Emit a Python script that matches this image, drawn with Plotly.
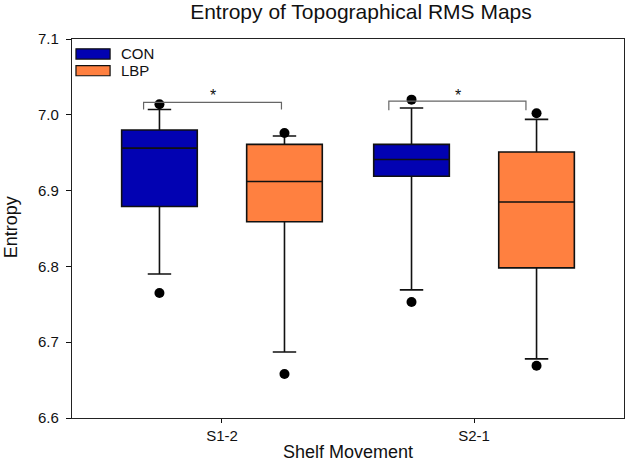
import plotly.graph_objects as go

groups = ["S1-2", "S2-1"]
group_pos = [0, 1]
series = ["CON", "LBP"]
colors = {"CON": "#0202B2", "LBP": "#FF8040"}
offsets = {"CON": -0.248, "LBP": 0.248}

q1 = {"CON": [6.879, 6.919], "LBP": [6.859, 6.798]}
median = {"CON": [6.956, 6.941], "LBP": [6.912, 6.885]}
q3 = {"CON": [6.980, 6.961], "LBP": [6.961, 6.951]}
lowerfence = {"CON": [6.790, 6.769], "LBP": [6.687, 6.678]}
upperfence = {"CON": [7.007, 7.009], "LBP": [6.972, 6.994]}
outlier_low = {"CON": [6.765, 6.753], "LBP": [6.658, 6.669]}
outlier_high = {"CON": [7.014, 7.020], "LBP": [6.976, 7.002]}

# significance brackets: (x_left, x_right, y_bar, y_tick_end)
brackets = [(-0.311, 0.236, 7.0165, 7.007), (0.662, 1.206, 7.018, 7.006)]
star_x = [-0.036, 0.937]
star_y = [7.026, 7.025]

fig = go.Figure()
for s in series:
    xs = [g + offsets[s] for g in group_pos]
    fig.add_trace(go.Box(
        x=xs, q1=q1[s], median=median[s], q3=q3[s],
        lowerfence=lowerfence[s], upperfence=upperfence[s],
        width=0.30, whiskerwidth=0.31, boxpoints=False,
        fillcolor=colors[s], line=dict(color="#111111", width=1.6),
        name=s, showlegend=False, hoverinfo="skip",
    ))
    fig.add_trace(go.Scatter(
        x=xs + xs, y=outlier_low[s] + outlier_high[s], mode="markers",
        marker=dict(color="black", size=10), showlegend=False, hoverinfo="skip",
    ))

for (xl, xr, yb, yt) in brackets:
    fig.add_trace(go.Scatter(
        x=[xl, xl, xr, xr], y=[yt, yb, yb, yt], mode="lines",
        line=dict(color="#666666", width=1.2), showlegend=False, hoverinfo="skip",
    ))
for sx, sy in zip(star_x, star_y):
    fig.add_annotation(x=sx, y=sy, text="*", showarrow=False,
                       font=dict(size=16, color="#111111"))

# legend drawn manually
leg_y = [(0.947, 0.974), (0.903, 0.930)]
for s, (y0, y1) in zip(series, leg_y):
    fig.add_shape(type="rect", xref="paper", yref="paper",
                  x0=0.0072, x1=0.069, y0=y0, y1=y1,
                  fillcolor=colors[s], line=dict(color="#111111", width=1.2))
    fig.add_annotation(xref="paper", yref="paper", x=0.085, y=(y0 + y1) / 2,
                       text=s, showarrow=False, xanchor="left", yanchor="middle",
                       font=dict(size=15, color="#111111"))

# axis titles
fig.add_annotation(xref="paper", yref="paper", x=0.5, y=-0.0897, text="Shelf Movement",
                   showarrow=False, xanchor="center", yanchor="middle",
                   font=dict(size=18, color="#111111"))
fig.add_annotation(xref="paper", yref="paper", x=-0.109, y=0.503, text="Entropy",
                   showarrow=False, xanchor="center", yanchor="middle", textangle=-90,
                   font=dict(size=18, color="#111111"))

fig.update_layout(
    width=630, height=463,
    margin=dict(l=72, r=6, t=39, b=45, autoexpand=False),
    paper_bgcolor="white", plot_bgcolor="white",
    font=dict(family="Liberation Sans, Arial, sans-serif", color="#111111"),
    title=dict(text="Entropy of Topographical RMS Maps", x=0.573, xanchor="center",
               y=0.974, yanchor="middle", font=dict(size=21, color="#111111")),
    showlegend=False,
)
fig.update_xaxes(
    range=[-0.595, 1.595], tickvals=group_pos, ticktext=groups,
    ticks="outside", ticklen=4, tickcolor="#111111", showgrid=False, zeroline=False,
    showline=True, linecolor="#222222", linewidth=1.2, mirror=True,
    tickfont=dict(size=15), automargin=False,
)
fig.update_yaxes(
    range=[6.6, 7.1], dtick=0.1, tick0=6.6, tickformat=".1f",
    ticks="outside", ticklen=5, tickcolor="#111111", showgrid=False, zeroline=False,
    showline=True, linecolor="#222222", linewidth=1.2, mirror=True,
    tickfont=dict(size=15), ticklabelstandoff=4, automargin=False,
)

fig.write_html("out.html", config={"displayModeBar": False},
               post_script="document.body.style.margin='0px';document.body.style.padding='0px';")
